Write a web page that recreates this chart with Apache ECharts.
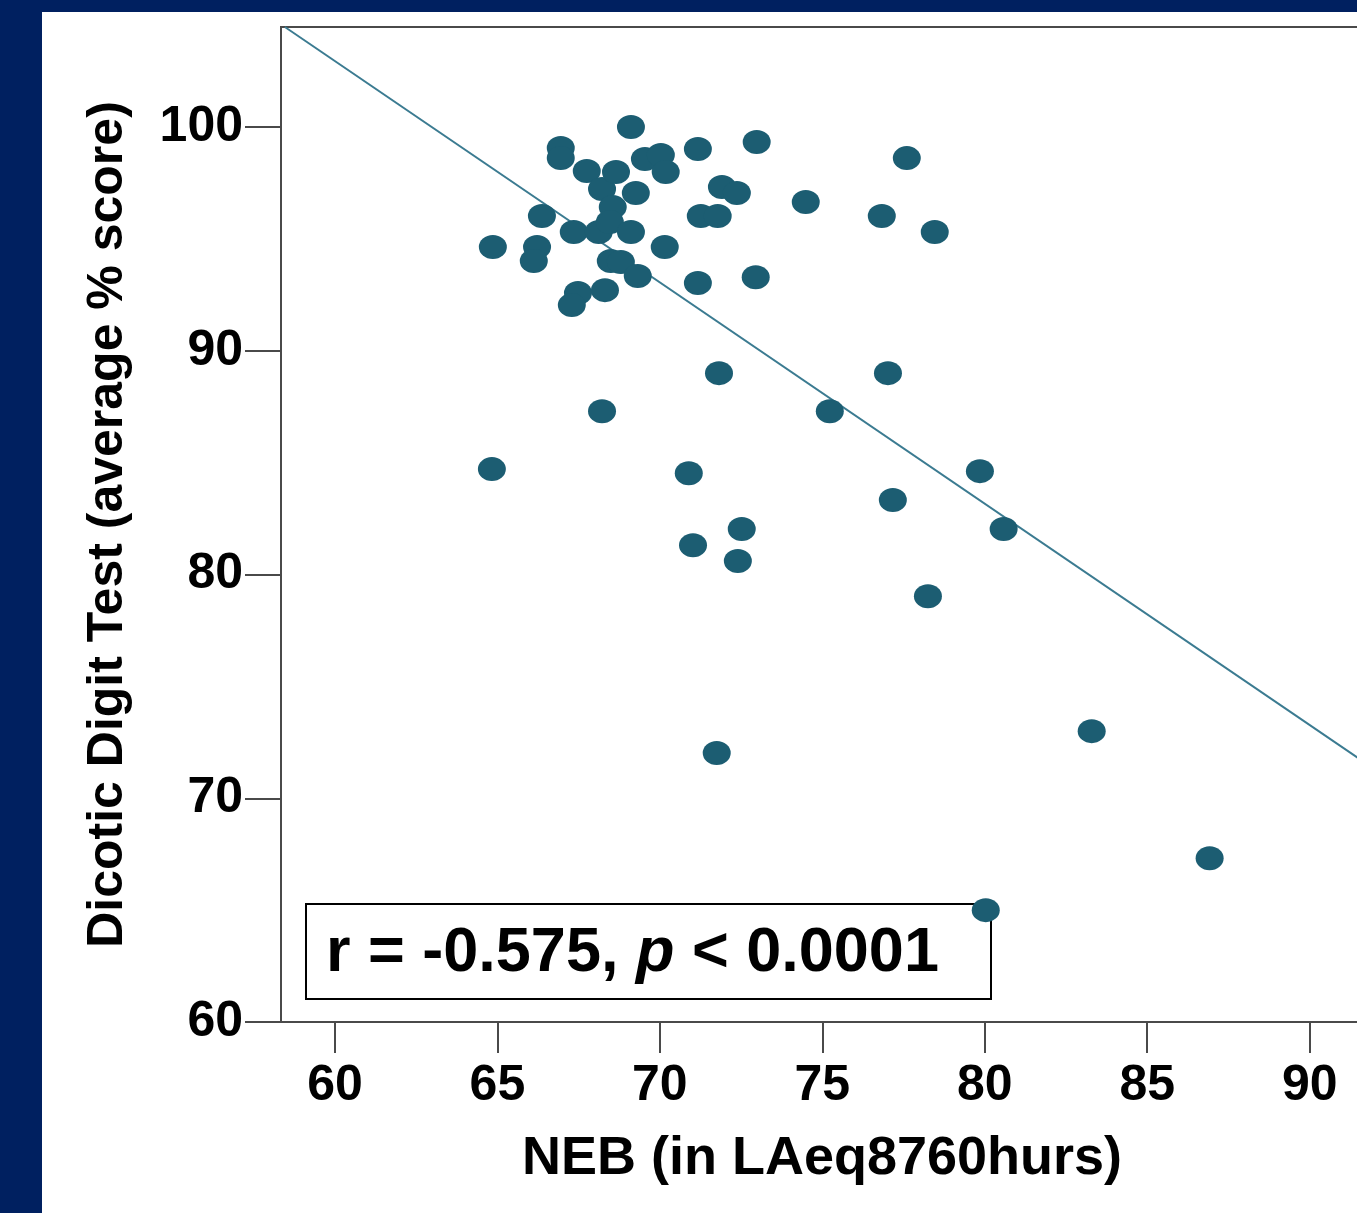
<!DOCTYPE html>
<html>
<head>
<meta charset="utf-8">
<script src="https://cdn.jsdelivr.net/npm/echarts@6/dist/echarts.min.js"></script>
<style>
  html, body { margin: 0; padding: 0; background: #002060; overflow: hidden; }
  #chart { position: absolute; left: 42px; top: 12px; width: 1315px; height: 1201px; background: #ffffff; }
</style>
</head>
<body>
<div id="chart"></div>
<script>
// NEB (x) values
const nebValues = [64.86, 64.83, 66.22, 66.12, 66.37, 66.95, 66.95, 67.35, 67.48, 67.29,
  67.75, 68.12, 68.22, 68.31, 68.22, 68.55, 68.46, 68.65, 68.49, 68.80,
  69.11, 69.11, 69.26, 69.32, 69.54, 70.03, 70.18, 70.15, 71.17, 72.98,
  77.60, 71.91, 72.37, 71.26, 71.78, 74.49, 76.83, 78.46, 72.95, 71.17,
  71.82, 77.02, 75.23, 70.89, 79.85, 77.17, 72.52, 80.58, 71.02, 72.40,
  78.25, 83.29, 71.75, 86.92, 80.03];
// Dicotic Digit Test (y) values
const ddtValues = [94.64, 84.71, 94.64, 94.01, 96.02, 99.06, 98.61, 95.31, 92.58, 92.04,
  98.03, 95.31, 97.23, 92.71, 87.30, 96.42, 95.75, 97.99, 94.01, 93.97,
  100.0, 95.31, 97.05, 93.34, 98.57, 98.75, 97.99, 94.64, 99.02, 99.33,
  98.61, 97.32, 97.05, 96.02, 96.02, 96.65, 96.02, 95.31, 93.29, 93.03,
  89.00, 89.00, 87.30, 84.53, 84.62, 83.33, 82.03, 82.03, 81.31, 80.60,
  79.03, 73.00, 72.02, 67.32, 65.00];
// Fit line end points
const fitX = [58.46, 91.64];
const fitY = [104.47, 71.65];
// Tick labels
const xTicks = [60, 65, 70, 75, 80, 85, 90];
const yTicks = [60, 70, 80, 90, 100];
const xTitle = 'NEB (in LAeq8760hurs)';
const yTitle = 'Dicotic Digit Test (average % score)';

const chart = echarts.init(document.getElementById('chart'));
const axisColor = '#4a4a4a';
const font = 'Liberation Sans, Arial, sans-serif';

chart.setOption({
  animation: false,
  backgroundColor: '#ffffff',
  grid: {
    left: 239, top: 15, right: -6, bottom: 191,
    outerBoundsMode: 'none', containLabel: false,
    show: true, borderColor: axisColor, borderWidth: 2, backgroundColor: '#ffffff'
  },
  xAxis: {
    type: 'value', min: 58.34, max: 91.64,
    axisLine: { show: true, onZero: false, lineStyle: { color: axisColor, width: 2 } },
    axisTick: { show: true, length: 31, customValues: xTicks, lineStyle: { color: axisColor, width: 2 } },
    axisLabel: { customValues: xTicks, fontSize: 50, fontWeight: 'bold', fontFamily: font, color: '#000', margin: 39 },
    splitLine: { show: false },
    name: xTitle, nameLocation: 'middle', nameGap: 110,
    nameTextStyle: { fontSize: 54, fontWeight: 'bold', fontFamily: font, color: '#000' }
  },
  yAxis: {
    type: 'value', min: 60, max: 104.47,
    axisLine: { show: true, onZero: false, lineStyle: { color: axisColor, width: 2 } },
    axisTick: { show: true, length: 36, customValues: yTicks, lineStyle: { color: axisColor, width: 2 } },
    axisLabel: { customValues: yTicks, fontSize: 50, fontWeight: 'bold', fontFamily: font, color: '#000', margin: 38 },
    splitLine: { show: false },
    name: yTitle, nameLocation: 'middle', nameGap: 148,
    nameTextStyle: { fontSize: 50, fontWeight: 'bold', fontFamily: font, color: '#000' }
  },
  graphic: [
    {
      type: 'rect', z: 1,
      shape: { x: 264, y: 892, width: 685, height: 95 },
      style: { fill: '#ffffff', stroke: '#000', lineWidth: 2 }
    },
    {
      type: 'text', z: 1, left: 284, top: 910,
      style: {
        text: '{a|r = -0.575, }{b|p}{a| < 0.0001}',
        rich: {
          a: { fontSize: 63, fontWeight: 'bold', fontFamily: font, fill: '#000' },
          b: { fontSize: 63, fontWeight: 'bold', fontStyle: 'italic', fontFamily: font, fill: '#000' }
        }
      }
    }
  ],
  series: [
    {
      type: 'line', z: 3,
      data: fitX.map((x, i) => [x, fitY[i]]),
      symbol: 'none', silent: true, clip: true,
      lineStyle: { color: '#3b7b91', width: 2 }
    },
    {
      type: 'scatter', z: 4,
      data: nebValues.map((x, i) => [x, ddtValues[i]]),
      symbol: 'circle', symbolSize: [28, 24],
      itemStyle: { color: '#1c5d72', opacity: 1 }
    }
  ]
});
</script>
</body>
</html>
